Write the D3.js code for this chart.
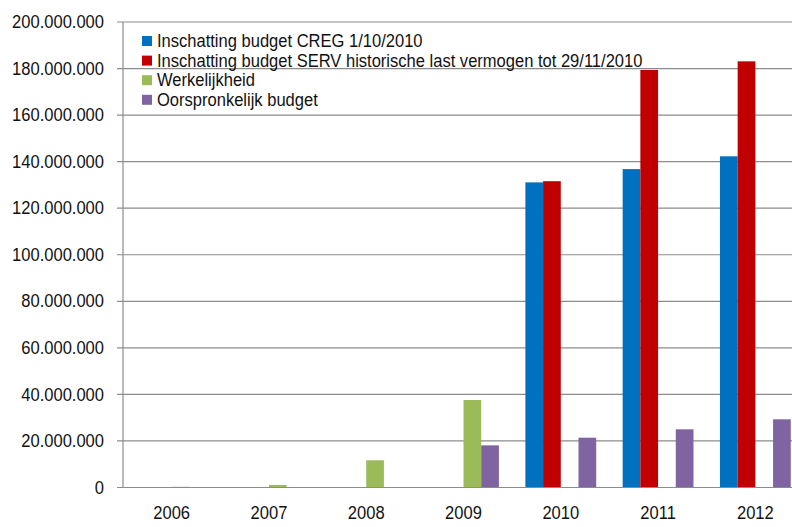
<!DOCTYPE html>
<html>
<head>
<meta charset="utf-8">
<script src="https://cdn.jsdelivr.net/npm/d3@7"></script>
<style>
  html, body { margin: 0; padding: 0; background: #fff; }
  svg { display: block; font-family: "Liberation Sans", Arial, sans-serif; }
</style>
</head>
<body>
<svg id="chart" width="792" height="527"></svg>
<script>
// Jaren op de categorie-as
const years = ["2006", "2007", "2008", "2009", "2010", "2011", "2012"];

// Reeksnamen (legende) en kleuren
const seriesNames = [
  "Inschatting budget CREG 1/10/2010",
  "Inschatting budget SERV historische last vermogen tot 29/11/2010",
  "Werkelijkheid",
  "Oorspronkelijk budget"
];
const seriesColors = ["#0070C0", "#C00000", "#9BBB59", "#8064A2"];

// Waarden per reeks (euro), null = geen waarde
const cregBudget   = [null, null, null, null, 131100000, 136800000, 142300000];
const servBudget   = [null, null, null, null, 131600000, 179400000, 183100000];
const werkelijk    = [300000, 1100000, 11700000, 37600000, null, null, null];
const origBudget   = [null, null, null, 18100000, 21400000, 25000000, 29300000];
const seriesValues = [cregBudget, servBudget, werkelijk, origBudget];

// Aslabels
const yTicks = [0, 20000000, 40000000, 60000000, 80000000, 100000000,
                120000000, 140000000, 160000000, 180000000, 200000000];

const FONT_SIZE = 17.5;
const X_SQUEEZE = 0.945;   // iets smallere letters

const svg = d3.select("#chart");
const plot = { left: 123, right: 804, top: 22, bottom: 487.5 };

const x = d3.scaleBand()
  .domain(years)
  .range([plot.left, plot.right])
  .paddingInner(0.272)
  .paddingOuter(0.136);

const xSub = d3.scaleBand()
  .domain(d3.range(seriesNames.length))
  .range([0, x.bandwidth()])
  .padding(0);

const y = d3.scaleLinear()
  .domain([0, 200000000])
  .range([plot.bottom, plot.top]);

// Getalnotatie met punt als duizendtalscheiding
const nl = d3.formatLocale({ decimal: ",", thousands: ".", grouping: [3], currency: ["€", ""] });
const fmt = nl.format(",d");

// Tekst horizontaal iets samendrukken rond het ankerpunt
function squeeze(sel) {
  sel.each(function() {
    const t = d3.select(this);
    const ax = +t.attr("x") || 0;
    t.attr("transform", `translate(${ax},0) scale(${X_SQUEEZE},1) translate(${-ax},0)`);
  });
}

// Rasterlijnen
svg.append("g")
  .selectAll("line")
  .data(yTicks.filter(d => d > 0))
  .join("line")
  .attr("x1", plot.left - 6)
  .attr("x2", 792)
  .attr("y1", d => y(d))
  .attr("y2", d => y(d))
  .attr("stroke", "#8c8c8c")
  .attr("stroke-width", 1.2);

// Staven
const groups = svg.append("g")
  .selectAll("g")
  .data(seriesValues)
  .join("g")
  .attr("fill", (d, i) => seriesColors[i]);

groups.each(function(vals, si) {
  d3.select(this).selectAll("rect")
    .data(years.map((yr, k) => ({ yr, v: vals[k] })).filter(d => d.v != null))
    .join("rect")
    .attr("x", d => x(d.yr) + xSub(si))
    .attr("width", xSub.bandwidth())
    .attr("y", d => y(d.v))
    .attr("height", d => y(0) - y(d.v));
});

// Y-as
const yAxis = d3.axisLeft(y)
  .tickValues(yTicks)
  .tickFormat(fmt)
  .tickSize(0)
  .tickPadding(19);

const yg = svg.append("g")
  .attr("transform", `translate(${plot.left},0)`)
  .call(yAxis);
yg.select(".domain").remove();
yg.selectAll("text")
  .attr("font-size", FONT_SIZE)
  .attr("font-family", "Liberation Sans, Arial, sans-serif")
  .attr("fill", "#111")
  .call(squeeze);

svg.append("line")
  .attr("x1", plot.left).attr("x2", plot.left)
  .attr("y1", plot.top).attr("y2", plot.bottom)
  .attr("stroke", "#8c8c8c").attr("stroke-width", 1.2);

// X-as
const xAxis = d3.axisBottom(x).tickSize(0).tickPadding(19);
const xg = svg.append("g")
  .attr("transform", `translate(0,${plot.bottom})`)
  .call(xAxis);
xg.select(".domain").remove();
xg.selectAll("text")
  .attr("font-size", FONT_SIZE)
  .attr("font-family", "Liberation Sans, Arial, sans-serif")
  .attr("fill", "#111")
  .call(squeeze);

svg.append("line")
  .attr("x1", plot.left - 6).attr("x2", 792)
  .attr("y1", plot.bottom).attr("y2", plot.bottom)
  .attr("stroke", "#8c8c8c").attr("stroke-width", 1.2);

// Legende
const legend = svg.append("g").attr("transform", "translate(142,36)");
const items = legend.selectAll("g")
  .data(seriesNames)
  .join("g")
  .attr("transform", (d, i) => `translate(0,${i * 19.6})`);
items.append("rect")
  .attr("width", 10).attr("height", 10)
  .attr("fill", (d, i) => seriesColors[i]);
items.append("text")
  .attr("x", 15).attr("y", 5)
  .attr("dy", "0.35em")
  .attr("font-size", FONT_SIZE)
  .attr("fill", "#111")
  .text(d => d)
  .call(squeeze);
</script>
</body>
</html>
